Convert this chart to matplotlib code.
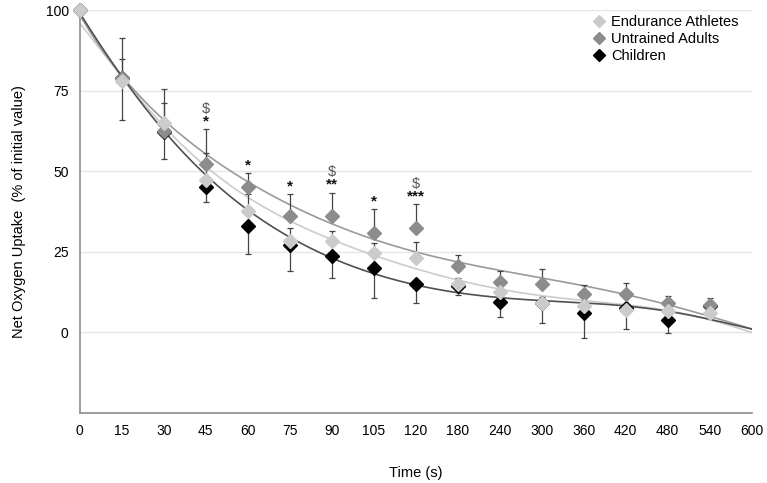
import numpy as np
import matplotlib
matplotlib.use("Agg")
import matplotlib.pyplot as plt

plt.rcParams["font.family"] = ["Liberation Sans", "DejaVu Sans"]

# ==============================
# Data
# ==============================
time_labels = ["0", "15", "30", "45", "60", "75", "90", "105", "120",
               "180", "240", "300", "360", "420", "480", "540", "600"]

endurance = [100, 78, 65, 47.3, 37.8, 28.5, 28.5, 24.6, 23, 15, 12.4, 9.1, 8.2, 7, 6.5, 6]
untrained = [100, 79, 62.5, 52.2, 45.2, 36.2, 36, 30.8, 32.5, 20.7, 15.5, 15.1, 12, 11.8, 9.1, 8.6]
children = [100, 79, 62.3, 45.2, 32.9, 27, 23.8, 19.9, 15.1, 14.5, 9.5, 9, 6, 7.5, 3.9, 8.2]

# one-sided error bars (endurance & untrained upward, children downward)
endurance_err = [0, 6.8, 6.3, 8.5, 5, 3.8, 3, 3, 5.2, 2, 1.5, 2, 1.5, 1.5, 1.5, 1.5]
untrained_err = [0, 12.4, 13, 10.8, 4.3, 6.8, 7.4, 7.4, 7.3, 3.4, 3.7, 4.6, 2.6, 3.4, 2.1, 2.1]
children_err = [0, 13.1, 8.5, 4.6, 8.6, 7.8, 7, 9.1, 6, 2.8, 4.7, 6.1, 7.8, 6.3, 4, 4]

# trend line values at each time point, 0..600 s
endurance_trend = [95.9, 79.5, 63.9, 51.5, 41.7, 35, 28.8, 24.1, 19.5, 15.9,
                   13.8, 11.5, 10, 8.4, 6.6, 4.2, -0.1]
untrained_trend = [98.5, 79.9, 65.4, 56.1, 46.3, 39.6, 34, 28.8, 24.7, 22.1,
                   19.3, 16.9, 14.3, 11.8, 8.7, 4.9, 1.1]
children_trend = [99, 79.9, 62.3, 48.4, 38.3, 30, 23.1, 18, 14.3, 12.4,
                  11.2, 10, 9, 8, 6.6, 4.2, 1]

# significance marks above the untrained adults bars: (index, stars, dollar)
sig_marks = [(3, "*", True), (4, "*", False), (5, "*", False), (6, "**", True),
             (7, "*", False), (8, "***", True)]

# ==============================
# Plot
# ==============================
fig = plt.figure(figsize=(7.67, 4.83), dpi=100)
ax = fig.add_axes([0.104, 0.145, 0.876, 0.834])

x = np.arange(len(endurance))
xt = np.arange(len(time_labels))
xfit = np.linspace(0, len(time_labels) - 1, 300)

# trend lines, smoothed through the read values
trends = [(endurance_trend, "#cccccc"), (untrained_trend, "#9a9a9a"),
          (children_trend, "#505050")]
for vals, lcol in trends:
    coefs = np.polyfit(xt, vals, 7)
    ax.plot(xfit, np.polyval(coefs, xfit), color=lcol, lw=1.2, zorder=2)

series = [
    ("Children", children, children_err, "#000000", -1),
    ("Untrained Adults", untrained, untrained_err, "#8c8c8c", 1),
    ("Endurance Athletes", endurance, endurance_err, "#cbcbcb", 1),
]

handles = {}
for name, vals, err, col, d in series:
    vals = np.array(vals)
    err = np.array(err)
    if d > 0:
        yerr = [np.zeros_like(err), err]
    else:
        yerr = [err, np.zeros_like(err)]
    ax.errorbar(x, vals, yerr=yerr, fmt="none", ecolor="#444444",
                elinewidth=0.9, capsize=2.2, capthick=0.9, zorder=3)
    h, = ax.plot(x, vals, linestyle="none", marker="D", markersize=7.5,
                 color=col, label=name, zorder=4, clip_on=False)
    handles[name] = h

for idx, stars, dollar in sig_marks:
    top = untrained[idx] + untrained_err[idx]
    ax.text(idx, top + 0.2, stars, ha="center", va="bottom", fontsize=11,
            fontweight="bold", color="#111111")
    if dollar:
        ax.text(idx, top + 4.2, "$", ha="center", va="bottom", fontsize=10.5,
                color="#555555")

ax.set_xlim(0, len(time_labels) - 1)
ax.set_ylim(-25, 100)
ax.set_xticks(xt)
ax.set_xticklabels(time_labels)
ax.set_yticks([0, 25, 50, 75, 100])
ax.tick_params(length=0, labelsize=10, pad=8)
ax.yaxis.grid(True, color="#e6e6e6", lw=1)
ax.set_axisbelow(True)

for s in ["top", "right"]:
    ax.spines[s].set_visible(False)
for s in ["left", "bottom"]:
    ax.spines[s].set_color("#8c8c8c")
    ax.spines[s].set_linewidth(1.2)

ax.set_xlabel("Time (s)", fontsize=10.5, labelpad=20)
ax.set_ylabel("Net Oxygen Uptake  (% of initial value)", fontsize=10.5, labelpad=14)

order = ["Endurance Athletes", "Untrained Adults", "Children"]
ax.legend([handles[n] for n in order], order, loc="upper right",
          bbox_to_anchor=(1.0, 1.02), frameon=False, fontsize=10.5,
          handletextpad=0.3, labelspacing=0.2, handlelength=1.0,
          markerscale=0.75)

fig.savefig("out.png", dpi=100)
